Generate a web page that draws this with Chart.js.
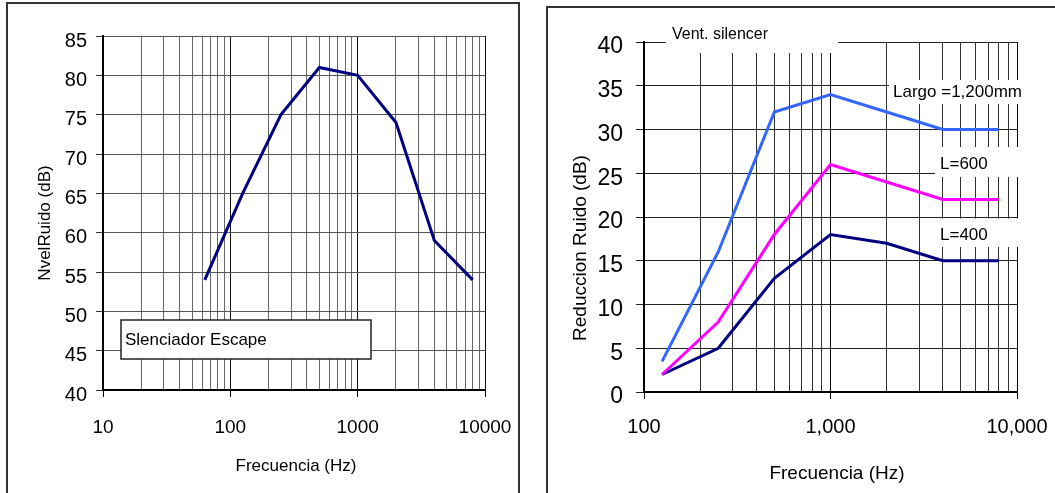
<!DOCTYPE html>
<html lang="es">
<head>
<meta charset="UTF-8">
<title>Silenciador - Nivel de ruido</title>
<script src="https://cdn.jsdelivr.net/npm/chart.js"></script>
<style>
  body { margin: 0; background: #fff; width: 1055px; height: 493px; overflow: hidden; position: relative; }
  .panel { position: absolute; border: 2px solid #333; box-sizing: border-box; }
  #panelLeft { left: 6px; top: 2px; width: 514px; height: 560px; }
  #panelRight { left: 546px; top: 6px; width: 560px; height: 560px; }
  canvas { position: absolute; top: 0; }
  #noiseChart { left: 0; }
  #silencerChart { left: 530px; }
</style>
</head>
<body>
<div class="panel" id="panelLeft"></div>
<div class="panel" id="panelRight"></div>
<canvas id="noiseChart" width="530" height="493"></canvas>
<canvas id="silencerChart" width="525" height="493"></canvas>
<script>
// left chart: escape silencer noise level
const freqLeft = [63, 125, 250, 500, 1000, 2000, 4000, 8000];
const noiseLevel = [54, 65, 75, 81, 80, 74, 59, 54];
const gridLeft = [10, 20, 30, 40, 50, 60, 70, 80, 90, 100, 200, 300, 400, 500, 600, 700, 800, 900,
                  1000, 2000, 3000, 4000, 5000, 6000, 7000, 8000, 9000, 10000];
const labelsLeft = [10, 100, 1000, 10000];

// right chart: vent silencer noise reduction
const freqRight = [125, 250, 500, 1000, 2000, 4000, 8000];
const red1200 = [3.5, 16, 32, 34, 32, 30, 30];
const red600 = [2, 8, 18, 26, 24, 22, 22];
const red400 = [2, 5, 13, 18, 17, 15, 15];
const gridRight = [100, 200, 300, 400, 500, 600, 700, 800, 900,
                   1000, 2000, 3000, 4000, 5000, 6000, 7000, 8000, 9000, 10000];
const labelsRight = [100, 1000, 10000];

const FONT = "'Liberation Sans', Arial, sans-serif";
Chart.defaults.font.family = FONT;
Chart.defaults.color = '#000';

function pts(xs, ys) {
  return xs.map((x, i) => ({ x: x, y: ys[i] }));
}

function isDecade(v) {
  return Math.abs(Math.log10(v) - Math.round(Math.log10(v))) < 1e-9;
}

// white boxes with text, and axis titles
const notes = {
  id: 'notes',
  beforeDatasetsDraw(chart) {
    const ctx = chart.ctx;
    (chart.options.plugins.notes.boxes || []).forEach(b => {
      ctx.save();
      ctx.fillStyle = '#fff';
      ctx.fillRect(b.x, b.y, b.w, b.h);
      if (b.border) {
        ctx.strokeStyle = '#222';
        ctx.lineWidth = 1.5;
        ctx.strokeRect(b.x, b.y, b.w, b.h);
      }
      ctx.fillStyle = '#000';
      ctx.font = b.size + 'px ' + FONT;
      ctx.textBaseline = 'middle';
      ctx.textAlign = 'left';
      ctx.fillText(b.text, b.tx, b.ty);
      ctx.restore();
    });
  },
  afterDraw(chart) {
    const ctx = chart.ctx;
    (chart.options.plugins.notes.titles || []).forEach(t => {
      ctx.save();
      ctx.fillStyle = '#000';
      ctx.font = t.size + 'px ' + FONT;
      ctx.textBaseline = 'middle';
      ctx.textAlign = 'center';
      ctx.translate(t.x, t.y);
      if (t.rotate) ctx.rotate(-Math.PI / 2);
      ctx.fillText(t.text, 0, 0);
      ctx.restore();
    });
  }
};

// fixed axis size, no extra side padding from the end labels
function fixX(s) {
  s.height = 60;
  s.paddingLeft = 0;
  s.paddingRight = 0;
}

new Chart(document.getElementById('noiseChart'), {
  type: 'line',
  data: {
    datasets: [{
      data: pts(freqLeft, noiseLevel),
      borderColor: '#000080',
      borderWidth: 3,
      pointRadius: 0,
      tension: 0
    }]
  },
  options: {
    responsive: false,
    animation: false,
    layout: { padding: { left: 0, top: 36, right: 45, bottom: 43 } },
    plugins: {
      legend: { display: false },
      tooltip: { enabled: false },
      notes: {
        boxes: [{ x: 121, y: 320, w: 250, h: 39, border: true, text: 'Slenciador Escape', size: 17, tx: 125, ty: 340 }],
        titles: [
          { text: 'NvelRuido (dB)', x: 45, y: 223, size: 17, rotate: true },
          { text: 'Frecuencia (Hz)', x: 296, y: 466, size: 17 }
        ]
      }
    },
    scales: {
      x: {
        type: 'logarithmic',
        min: 10,
        max: 10000,
        afterBuildTicks: s => { s.ticks = gridLeft.map(v => ({ value: v })); },
        afterFit: fixX,
        border: { color: '#000', width: 2 },
        grid: {
          color: c => (c.tick && isDecade(c.tick.value)) ? '#111' : '#666',
          lineWidth: 1,
          tickLength: 7,
          tickColor: c => (c.tick && isDecade(c.tick.value)) ? '#000' : 'rgba(0,0,0,0)'
        },
        ticks: {
          autoSkip: false,
          maxRotation: 0,
          padding: 19,
          font: { size: 19 },
          callback: v => labelsLeft.includes(v) ? String(v) : ''
        }
      },
      y: {
        min: 40,
        max: 85,
        afterFit: s => { s.width = 103; },
        border: { color: '#000', width: 2 },
        grid: { color: '#555', lineWidth: 1, tickLength: 7, tickColor: '#333' },
        ticks: { stepSize: 5, padding: 9, labelOffset: 5, font: { size: 20 } }
      }
    }
  },
  plugins: [notes]
});

new Chart(document.getElementById('silencerChart'), {
  type: 'line',
  data: {
    datasets: [
      { label: 'Largo =1,200mm', data: pts(freqRight, red1200), borderColor: '#3366ff' },
      { label: 'L=600', data: pts(freqRight, red600), borderColor: '#ff00ff' },
      { label: 'L=400', data: pts(freqRight, red400), borderColor: '#000080' }
    ].map(d => Object.assign(d, { borderWidth: 3, pointRadius: 0, tension: 0 }))
  },
  options: {
    responsive: false,
    animation: false,
    layout: { padding: { left: 0, top: 42, right: 38, bottom: 41 } },
    plugins: {
      legend: { display: false },
      tooltip: { enabled: false },
      notes: {
        boxes: [
          { x: 136, y: 14, w: 172, h: 39, text: 'Vent. silencer', size: 16, tx: 142, ty: 35 },
          { x: 359, y: 80, w: 143, h: 24, text: 'Largo =1,200mm', size: 17, tx: 363, ty: 92 },
          { x: 405, y: 147, w: 97, h: 30, text: 'L=600', size: 17, tx: 410, ty: 164 },
          { x: 405, y: 218.5, w: 97, h: 28.5, text: 'L=400', size: 17, tx: 410, ty: 235 }
        ],
        titles: [
          { text: 'Reduccion Ruido (dB)', x: 51, y: 248, size: 19, rotate: true },
          { text: 'Frecuencia (Hz)', x: 307, y: 474, size: 19 }
        ]
      }
    },
    scales: {
      x: {
        type: 'logarithmic',
        min: 100,
        max: 10000,
        afterBuildTicks: s => { s.ticks = gridRight.map(v => ({ value: v })); },
        afterFit: fixX,
        border: { color: '#000', width: 2 },
        grid: {
          color: c => (c.tick && isDecade(c.tick.value)) ? '#000' : '#333',
          lineWidth: 1,
          tickLength: 7,
          tickColor: c => (c.tick && isDecade(c.tick.value)) ? '#000' : 'rgba(0,0,0,0)'
        },
        ticks: {
          autoSkip: false,
          maxRotation: 0,
          padding: 16,
          font: { size: 20 },
          callback: v => labelsRight.includes(v) ? v.toLocaleString('en-US') : ''
        }
      },
      y: {
        min: 0,
        max: 40,
        afterFit: s => { s.width = 114; },
        border: { color: '#000', width: 2 },
        grid: { color: '#222', lineWidth: 1, tickLength: 8, tickColor: '#222' },
        ticks: { stepSize: 5, padding: 13, labelOffset: 5, font: { size: 23 } }
      }
    }
  },
  plugins: [notes]
});
</script>
</body>
</html>
